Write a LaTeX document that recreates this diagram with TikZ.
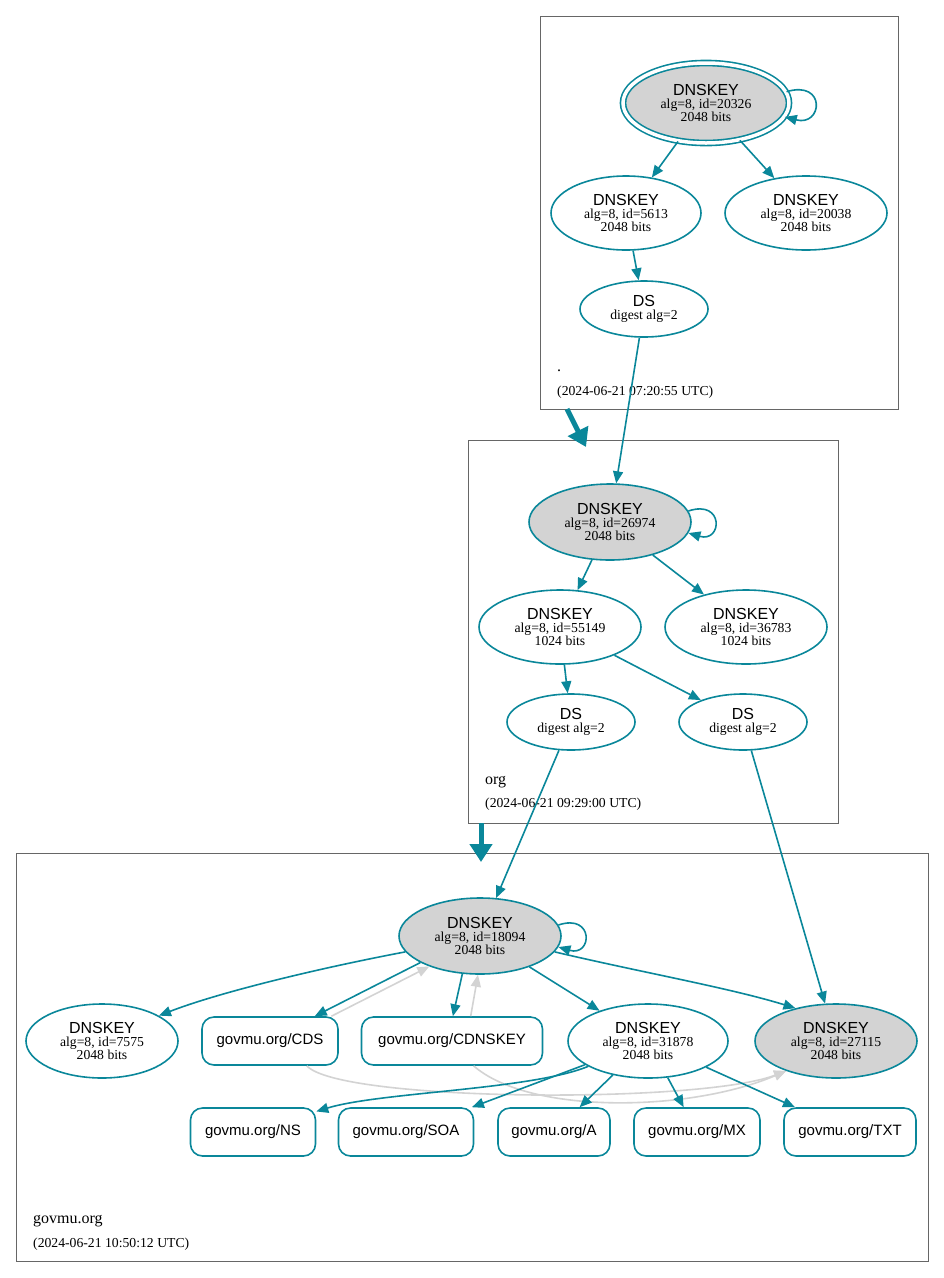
\documentclass[tikz,border=0pt]{standalone}
\usepackage{fontspec}
\setmainfont{Liberation Serif}
\setsansfont{Liberation Sans}
\usetikzlibrary{shapes.geometric,arrows.meta}

\definecolor{dnssec}{HTML}{0A879A}
\definecolor{kskgrey}{HTML}{D3D3D3}

\newcommand{\headfont}{\sffamily\fontsize{16}{16}\selectfont}
\newcommand{\subfont}{\rmfamily\fontsize{13.7}{13.3}\selectfont}
\newcommand{\keylabel}[2]{{\headfont DNSKEY}\\{\subfont alg=8, id=#1}\\{\subfont #2 bits}}
\newcommand{\dslabel}{{\headfont DS}\\{\subfont digest alg=2}}

\begin{document}
\begin{tikzpicture}[x=1pt,y=-1pt]
	\tikzset{zone/.style = {draw=black!60, line width=0.9pt}}
	\tikzset{zonelabel/.style = {anchor=base west, inner sep=0pt}}
	\tikzset{key/.style = {shape=ellipse, draw=dnssec, line width=1.6pt, inner sep=0pt, align=center, font=\subfont, minimum width=162pt, minimum height=74pt}}
	\tikzset{ksk/.style = {key, fill=kskgrey}}
	\tikzset{dsnode/.style = {key, minimum width=128pt, minimum height=56pt}}
	\tikzset{rrset/.style = {shape=rectangle, rounded corners=12pt, draw=dnssec, line width=1.6pt, minimum height=48pt, inner sep=0pt, font=\sffamily\fontsize{15}{15}\selectfont}}
	\tikzset{edge/.style = {->, > = {Triangle[length=12pt, width=10pt]}, draw=dnssec, line width=1.6pt}}
	\tikzset{sigedge/.style = {edge, draw=kskgrey}}
	\tikzset{deleg/.style = {->, > = {Triangle[length=18pt, width=22pt]}, draw=dnssec, line width=5pt}}

	\useasboundingbox (0,0) rectangle (944,1278);

	% zones
	\draw[zone] (540,16) rectangle (898,409);
	\draw[zone] (468,440) rectangle (838,823);
	\draw[zone] (16,853) rectangle (928,1261);

	% root zone
	\node[ksk, double=white, double distance=3.5pt, minimum width=166pt, minimum height=80pt] (k20326) at (706,103) {\keylabel{20326}{2048}};
	\node[key, minimum width=150pt] (k5613) at (626,213) {\keylabel{5613}{2048}};
	\node[key] (k20038) at (806,213) {\keylabel{20038}{2048}};
	\node[dsnode] (ds5613) at (644,309) {\dslabel};
	\node[zonelabel, font=\rmfamily\fontsize{16}{16}\selectfont] (lroot) at (557,371) {.};
	\node[zonelabel, font=\subfont] (troot) at (557,395) {(2024-06-21 07:20:55 UTC)};

	% org zone
	\node[ksk, minimum height=76pt] (k26974) at (610,522) {\keylabel{26974}{2048}};
	\node[key] (k55149) at (560,627) {\keylabel{55149}{1024}};
	\node[key] (k36783) at (746,627) {\keylabel{36783}{1024}};
	\node[dsnode] (ds18094) at (571,722) {\dslabel};
	\node[dsnode] (ds27115) at (743,722) {\dslabel};
	\node[zonelabel, font=\rmfamily\fontsize{16}{16}\selectfont] (lorg) at (485,784) {org};
	\node[zonelabel, font=\subfont] (torg) at (485,807) {(2024-06-21 09:29:00 UTC)};

	% govmu.org zone
	\node[ksk, minimum height=76pt] (k18094) at (480,936) {\keylabel{18094}{2048}};
	\node[key, minimum width=152pt] (k7575) at (102,1041) {\keylabel{7575}{2048}};
	\node[rrset, minimum width=136pt] (cds) at (270,1041) {govmu.org/CDS};
	\node[rrset, minimum width=181pt] (cdnskey) at (452,1041) {govmu.org/CDNSKEY};
	\node[key, minimum width=160pt] (k31878) at (648,1041) {\keylabel{31878}{2048}};
	\node[ksk] (k27115) at (836,1041) {\keylabel{27115}{2048}};
	\node[rrset, minimum width=125pt] (ns) at (253,1132) {govmu.org/NS};
	\node[rrset, minimum width=135pt] (soa) at (406,1132) {govmu.org/SOA};
	\node[rrset, minimum width=112pt] (a) at (554,1132) {govmu.org/A};
	\node[rrset, minimum width=126pt] (mx) at (697,1132) {govmu.org/MX};
	\node[rrset, minimum width=132pt] (txt) at (850,1132) {govmu.org/TXT};
	\node[zonelabel, font=\rmfamily\fontsize{16}{16}\selectfont] (lgovmu) at (33,1223) {govmu.org};
	\node[zonelabel, font=\subfont] (tgovmu) at (33,1247) {(2024-06-21 10:50:12 UTC)};

	% delegations
	\coordinate (dlg1s) at (567,409);
	\coordinate (dlg1e) at (586,447);
	\coordinate (dlg2s) at (481,823);
	\coordinate (dlg2e) at (481,862);
	\draw[deleg] (dlg1s) -- (dlg1e);
	\draw[deleg] (dlg2s) -- (dlg2e);

	% grey edges
	\draw[sigedge] (cds.22) -- (k18094.211);
	\draw[sigedge] (cdnskey.53) -- (k18094.267);
	\draw[sigedge] (cds.-34) .. controls (340,1102) and (700,1104) .. (k27115.211);
	\draw[sigedge] (cdnskey.-49) .. controls (530,1115) and (690,1112) .. (k27115.211);

	% root edges
	\draw[edge] (k20326.8) .. controls +(40,-12) and +(38,10) .. (k20326.-10);
	\draw[edge] (k20326) -- (k5613);
	\draw[edge] (k20326) -- (k20038);
	\draw[edge] (k5613) -- (ds5613);
	\draw[edge] (ds5613) -- (k26974);

	% org edges
	\draw[edge] (k26974.8) .. controls +(36,-12) and +(34,10) .. (k26974.-8);
	\draw[edge] (k26974) -- (k55149);
	\draw[edge] (k26974) -- (k36783);
	\draw[edge] (k55149) -- (ds18094);
	\draw[edge] (k55149) -- (ds27115);
	\draw[edge] (ds18094) -- (k18094);
	\draw[edge] (ds27115) -- (k27115);

	% govmu.org edges
	\draw[edge] (k18094.8) .. controls +(36,-12) and +(34,10) .. (k18094.-8);
	\draw[edge] (k18094.192) .. controls (320,968) and (220,992) .. (k7575.24);
	\draw[edge] (k18094.204) -- (cds.29);
	\draw[edge] (k18094.245) -- (cdnskey.88);
	\draw[edge] (k18094) -- (k31878);
	\draw[edge] (k18094.-12) .. controls (640,972) and (730,988) .. (k27115.141);
	\draw[edge] (k31878.203) .. controls (530,1090) and (380,1092) .. (ns.18);
	\draw[edge] (k31878) -- (soa);
	\draw[edge] (k31878) -- (a);
	\draw[edge] (k31878) -- (mx);
	\draw[edge] (k31878) -- (txt);
\end{tikzpicture}
\end{document}
